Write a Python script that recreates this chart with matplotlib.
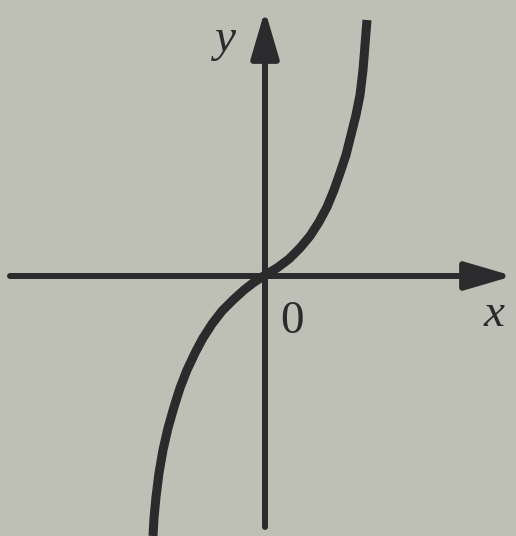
import matplotlib
matplotlib.use("Agg")
import matplotlib.pyplot as plt

# curve points (one unit = 100 px, origin at the axes cross)
curve_x = [-1.12, -1.11, -1.09, -1.06, -1.02, -0.97, -0.91, -0.85, -0.78, -0.70,
           -0.62, -0.53, -0.43, -0.32, -0.21, -0.12, 0.0, 0.12, 0.24, 0.35,
           0.45, 0.54, 0.62, 0.69, 0.75, 0.81, 0.86, 0.91, 0.95, 0.98,
           1.00, 1.02]
curve_y = [-2.60, -2.42, -2.21, -1.97, -1.74, -1.52, -1.31, -1.12, -0.94, -0.77,
           -0.62, -0.48, -0.35, -0.24, -0.14, -0.07, 0.01, 0.08, 0.17, 0.28,
           0.40, 0.54, 0.69, 0.86, 1.03, 1.21, 1.41, 1.61, 1.81, 2.06,
           2.31, 2.56]

# axis extents
x_axis = [-2.55, 2.48]
y_axis = [-2.51, 2.66]

INK = "#2b2b2d"
PAPER = "#bec0b5"

fig = plt.figure(figsize=(5.16, 5.36), dpi=100, facecolor=PAPER)
ax = fig.add_axes([0, 0, 1, 1])
ax.set_facecolor(PAPER)
ax.set_xlim(-2.65, 2.51)
ax.set_ylim(-2.60, 2.76)
ax.axis("off")

arrow = dict(arrowstyle="-|>,head_length=2.9,head_width=0.85", color=INK,
             lw=4.3, mutation_scale=10, shrinkA=0, shrinkB=0)
ax.annotate("", xy=(x_axis[1], 0), xytext=(x_axis[0], 0), arrowprops=arrow)
ax.annotate("", xy=(0, y_axis[1]), xytext=(0, y_axis[0]), arrowprops=arrow)

ax.plot(curve_x, curve_y, color=INK, lw=6.5, solid_capstyle="butt",
        solid_joinstyle="round")

serif = ["Liberation Serif", "DejaVu Serif"]
ax.text(-0.40, 2.36, "y", family=serif, style="italic", fontsize=34,
        color=INK, ha="center", va="center")
ax.text(2.29, -0.39, "x", family=serif, style="italic", fontsize=34,
        color=INK, ha="center", va="center")
ax.text(0.27, -0.46, "0", family=serif, fontsize=34, color=INK,
        ha="center", va="center")

fig.savefig("out.png", dpi=100, facecolor=PAPER)
